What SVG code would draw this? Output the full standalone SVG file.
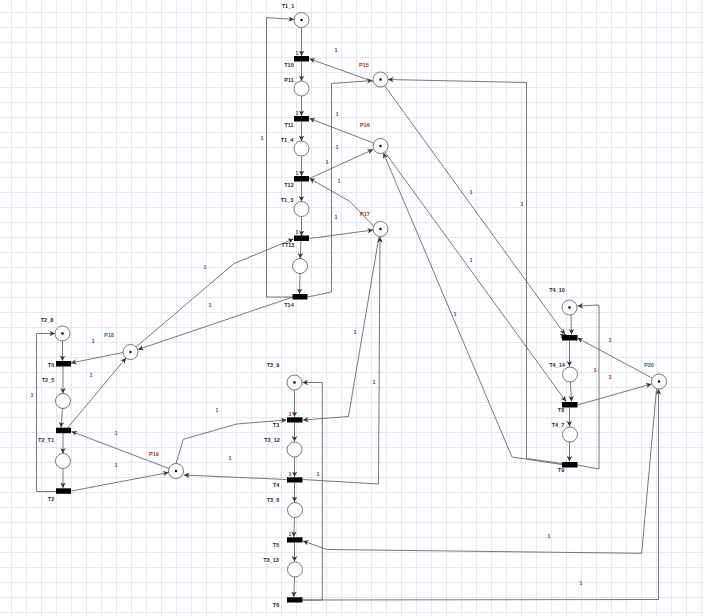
<svg xmlns="http://www.w3.org/2000/svg" width="703" height="616" viewBox="0 0 703 616">
<style>
.pl{fill:#fff;stroke:#555;stroke-width:0.8}
.tk{fill:#000}
.tr{fill:#000}
.ar{fill:none;stroke:#555;stroke-width:0.8;marker-end:url(#ah)}
.ln{font-family:"Liberation Sans",Arial,sans-serif;font-size:5.5px;font-weight:bold;text-anchor:middle;fill:#2a2a2a}
.lr{font-family:"Liberation Sans",Arial,sans-serif;font-size:5.5px;font-weight:bold;text-anchor:middle;fill:#9a3a2a}
.lt{font-family:"Liberation Sans",Arial,sans-serif;font-size:5.5px;font-weight:bold;text-anchor:middle;fill:#2a6a80}
.wr{font-family:"Liberation Sans",Arial,sans-serif;font-size:5.5px;font-weight:bold;text-anchor:middle;fill:#a02828}
.wt{font-family:"Liberation Sans",Arial,sans-serif;font-size:5.5px;font-weight:bold;text-anchor:middle;fill:#1f6585}
</style>
<defs>
<pattern id="grid" width="15" height="15" patternUnits="userSpaceOnUse" x="11" y="12">
<path d="M0 0.5H15M0.5 0V15" fill="none" stroke="#e9e5f8" stroke-width="1"/>
</pattern>
<marker id="ah" markerUnits="userSpaceOnUse" markerWidth="6" markerHeight="6" refX="5.5" refY="3" orient="auto">
<path d="M0,0.3 L5.5,3 L0,5.7 L1.6,3 z" fill="#333"/>
</marker>
</defs>
<rect width="703" height="616" fill="#fff"/>
<rect width="703" height="616" fill="url(#grid)"/>

<g id="connectors">
<!-- column 1 -->
<path class="ar" d="M301.5,27.5 V56"/>
<path class="ar" d="M301.5,61.5 V81"/>
<path class="ar" d="M301.5,96 V116"/>
<path class="ar" d="M301.5,121.5 V141"/>
<path class="ar" d="M301.5,156 V176"/>
<path class="ar" d="M301.5,181.5 V201.5"/>
<path class="ar" d="M301.5,216.5 V236"/>
<path class="ar" d="M301,241 L300.2,258.5"/>
<path class="ar" d="M300,273.5 L299.5,294"/>
<path class="ar" d="M292.5,297 H266.5 V17.5 L294,19.5"/>
<path class="ar" d="M307.5,297 L331.5,292 V83.5 L372.5,80.5"/>
<path class="ar" d="M372.8,81.5 L309.5,58.8"/>
<path class="ar" d="M373.5,143 L309.5,118.5"/>
<path class="ar" d="M309.5,178.5 L373,149.5"/>
<path class="ar" d="M373.5,226 L350,201.5 L309.5,178.5"/>
<path class="ar" d="M309.5,238.5 L373,230"/>
<path class="ar" d="M136,347 L234,263.5 L293.5,239"/>
<path class="ar" d="M293,297 L138,349.5"/>
<!-- right side -->
<path class="ar" d="M562,463.5 L526.5,458.5 V82.5 L388,79.5"/>
<path class="ar" d="M384.4,85.4 L565,334.5"/>
<path class="ar" d="M384.9,152.1 L566,401.5"/>
<path class="ar" d="M562,464.5 L512,457 L383.4,152.9"/>
<path class="ar" d="M571,315 L571.5,334.5"/>
<path class="ar" d="M569.5,340.5 V366.5"/>
<path class="ar" d="M570.5,382 L571.5,401.5"/>
<path class="ar" d="M569.5,407.5 V426.5"/>
<path class="ar" d="M569.5,442 V461.5"/>
<path class="ar" d="M577.5,465 L599,469 V305 L577.5,306"/>
<path class="ar" d="M652,378 L577.5,338"/>
<path class="ar" d="M577.5,405 L651.5,384"/>
<path class="ar" d="M302.7,600 L658.5,599.5 V389"/>
<path class="ar" d="M656.5,389 L641.7,553.3 L327.3,549.5 L303,541"/>
<!-- bottom column -->
<path class="ar" d="M294.5,390 V417"/>
<path class="ar" d="M294.5,422.5 V441.5"/>
<path class="ar" d="M294.5,457 V477"/>
<path class="ar" d="M294.5,482.5 V502"/>
<path class="ar" d="M294.5,517.5 L293.8,537"/>
<path class="ar" d="M294.5,542.5 V561.5"/>
<path class="ar" d="M294.5,577 L293.8,597"/>
<path class="ar" d="M302.7,600 H322.3 V382.5 H302.5"/>
<path class="ar" d="M379,236.5 L348.5,416.5 L303,420"/>
<path class="ar" d="M303,479.5 L378.5,484 L380,237"/>
<path class="ar" d="M176,463.5 L183.3,439.3 L236.7,424 L286.5,420"/>
<path class="ar" d="M286.5,479.5 L184,475"/>
<!-- left -->
<path class="ar" d="M62.5,341 V361"/>
<path class="ar" d="M63,366 V393.5"/>
<path class="ar" d="M62.5,408.5 L61,427.5"/>
<path class="ar" d="M63,433 V453.5"/>
<path class="ar" d="M63,468.5 V488"/>
<path class="ar" d="M56,491.5 H36.5 V333.5 H55"/>
<path class="ar" d="M123,352.5 L71,363"/>
<path class="ar" d="M67.5,428 L126,358"/>
<path class="ar" d="M169,468.5 L71.5,431.5"/>
<path class="ar" d="M71.5,491 L168.5,472.5"/>
</g>

<g id="weights">
<text class="wr" x="297" y="54.5">1</text>
<text class="wr" x="297" y="115">1</text>
<text class="wr" x="297" y="175">1</text>
<text class="wr" x="297" y="234">1</text>
<text class="wr" x="290" y="416">1</text>
<text class="wr" x="290" y="476">1</text>
<text class="wr" x="290" y="536">1</text>
<text class="wr" x="336" y="52">1</text>
<text class="wr" x="262" y="140">1</text>
<text class="wr" x="327" y="164">1</text>
<text class="wr" x="336" y="219">1</text>
<text class="wr" x="522" y="206">1</text>
<text class="wr" x="210" y="307">1</text>
<text class="wr" x="217" y="412">1</text>
<text class="wr" x="230" y="460">1</text>
<text class="wr" x="318" y="476">1</text>
<text class="wr" x="374" y="384">1</text>
<text class="wr" x="610" y="342">1</text>
<text class="wr" x="610" y="379">1</text>
<text class="wr" x="595" y="372">1</text>
<text class="wr" x="32" y="397">1</text>
<text class="wr" x="549" y="538">1</text>
<text class="wt" x="337" y="116">1</text>
<text class="wt" x="337" y="149">1</text>
<text class="wt" x="339" y="183">1</text>
<text class="wt" x="205" y="269">1</text>
<text class="wt" x="471" y="194">1</text>
<text class="wt" x="471" y="262">1</text>
<text class="wt" x="455" y="316">1</text>
<text class="wt" x="355" y="334">1</text>
<text class="wt" x="93" y="343">1</text>
<text class="wt" x="91" y="377">1</text>
<text class="wt" x="116" y="435">1</text>
<text class="wt" x="116" y="467">1</text>
<text class="wt" x="581" y="585">1</text>
</g>

<!-- column 1 nodes -->
<g id="T1_1"><circle class="pl" cx="301.5" cy="20" r="7.5"/><circle class="tk" cx="301.5" cy="20" r="1.2"/><text class="ln" x="288" y="8">T1_1</text></g>
<g id="T10"><text class="ln" x="289" y="67">T10</text><rect class="tr" x="294" y="56" width="15" height="5.5"/></g>
<g id="P11"><circle class="pl" cx="301.5" cy="88.5" r="7.5"/><text class="ln" x="289" y="82">P11</text></g>
<g id="T11"><text class="ln" x="289" y="127">T11</text><rect class="tr" x="294" y="116" width="15" height="5.5"/></g>
<g id="T1_4"><circle class="pl" cx="301.5" cy="148.5" r="7.5"/><text class="ln" x="287" y="142">T1_4</text></g>
<g id="T12"><text class="ln" x="289" y="187">T12</text><rect class="tr" x="294" y="176" width="15" height="5.5"/></g>
<g id="T1_3"><circle class="pl" cx="301.5" cy="209" r="7.5"/><text class="ln" x="287" y="202">T1_3</text></g>
<g id="T13"><text class="ln" x="288" y="247">TT13</text><rect class="tr" x="294" y="235.5" width="15" height="5.5"/></g>
<g id="P_unnamed"><circle class="pl" cx="300" cy="266" r="7.5"/></g>
<g id="T14"><text class="ln" x="289" y="307">T14</text><rect class="tr" x="292.5" y="294" width="15" height="5.5"/></g>
<g id="P15"><circle class="pl" cx="380.5" cy="79.5" r="7.5"/><circle class="tk" cx="380.5" cy="79.5" r="1.2"/><text class="lr" x="364" y="67">P15</text></g>
<g id="P16"><circle class="pl" cx="380.5" cy="146" r="7.5"/><circle class="tk" cx="380.5" cy="146" r="1.2"/><text class="lr" x="365" y="127">P16</text></g>
<g id="P17"><circle class="pl" cx="380.5" cy="229" r="7.5"/><circle class="tk" cx="380.5" cy="229" r="1.2"/><text class="lr" x="365" y="216">P17</text></g>

<!-- left nodes -->
<g id="P18"><circle class="pl" cx="130.5" cy="352" r="7.5"/><circle class="tk" cx="130.5" cy="352" r="1.2"/><text class="lt" x="109" y="337">P18</text></g>
<g id="T2_8"><circle class="pl" cx="62.5" cy="333.5" r="7.5"/><circle class="tk" cx="62.5" cy="333.5" r="1.2"/><text class="ln" x="47" y="322">T2_8</text></g>
<g id="T0"><text class="ln" x="51" y="367">T0</text><rect class="tr" x="56" y="361" width="15" height="5.5"/></g>
<g id="T2_5"><circle class="pl" cx="63" cy="401" r="7.5"/><text class="ln" x="48" y="382">T2_5</text></g>
<g id="T2_T1"><text class="ln" x="46" y="442">T2_T1</text><rect class="tr" x="56" y="427.7" width="15" height="5.5"/></g>
<g id="P_left"><circle class="pl" cx="63" cy="461" r="7.5"/></g>
<g id="T2"><text class="ln" x="51" y="501">T2</text><rect class="tr" x="56" y="488.3" width="15" height="5.5"/></g>
<g id="P19"><circle class="pl" cx="176" cy="471" r="7.5"/><circle class="tk" cx="176" cy="471" r="1.2"/><text class="lr" x="154" y="456">P19</text></g>

<!-- bottom column -->
<g id="T3_9"><circle class="pl" cx="294.5" cy="382.5" r="7.5"/><circle class="tk" cx="294.5" cy="382.5" r="1.2"/><text class="ln" x="273" y="367">T3_9</text></g>
<g id="T3"><text class="ln" x="276" y="427">T3</text><rect class="tr" x="287" y="417.3" width="15.5" height="5.2"/></g>
<g id="T3_12"><circle class="pl" cx="294.5" cy="449.5" r="7.5"/><text class="ln" x="272" y="442">T3_12</text></g>
<g id="T4"><text class="ln" x="276" y="487">T4</text><rect class="tr" x="287" y="477.3" width="15.5" height="5.2"/></g>
<g id="T3_6"><circle class="pl" cx="295" cy="510" r="7.5"/><text class="ln" x="273" y="502">T3_6</text></g>
<g id="T5"><text class="ln" x="276" y="547">T5</text><rect class="tr" x="287" y="537.3" width="15.5" height="5.2"/></g>
<g id="T3_13"><circle class="pl" cx="295" cy="569.5" r="7.5"/><text class="ln" x="271" y="562">T3_13</text></g>
<g id="T6"><text class="ln" x="276" y="607">T6</text><rect class="tr" x="287" y="597.3" width="15.5" height="5.2"/></g>

<!-- right nodes -->
<g id="T4_10"><circle class="pl" cx="569.5" cy="307.5" r="7.5"/><circle class="tk" cx="569.5" cy="307.5" r="1.2"/><text class="ln" x="557" y="292">T4_10</text></g>
<g id="T7"><text class="ln" x="563" y="338">T7</text><rect class="tr" x="562" y="335" width="15.5" height="5.5"/></g>
<g id="T4_14"><circle class="pl" cx="570" cy="374.5" r="7.5"/><text class="ln" x="557" y="367">T4_14</text></g>
<g id="T8"><text class="ln" x="561" y="412">T8</text><rect class="tr" x="562" y="402" width="15.5" height="5.5"/></g>
<g id="T4_7"><circle class="pl" cx="570" cy="434.5" r="7.5"/><text class="ln" x="558" y="427">T4_7</text></g>
<g id="T9"><text class="ln" x="561" y="472">T9</text><rect class="tr" x="562" y="462" width="15.5" height="5.5"/></g>
<g id="P20"><circle class="pl" cx="659" cy="381.5" r="7.5"/><circle class="tk" cx="659" cy="381.5" r="1.2"/><text class="lt" x="649" y="367">P20</text></g>
</svg>
